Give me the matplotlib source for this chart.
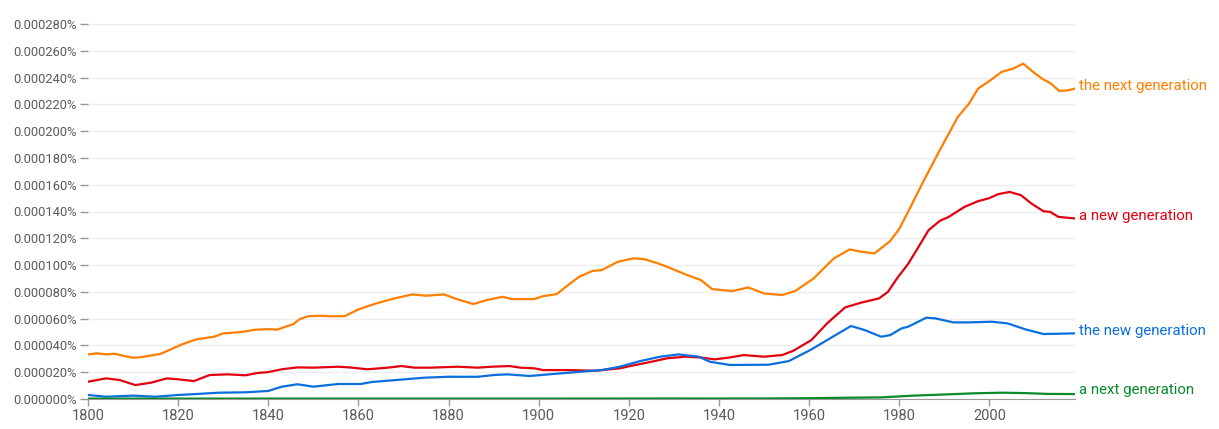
import numpy as np
import matplotlib.pyplot as plt

# values in units of 0.000001 %
years_tng = [1800, 1802, 1804, 1806, 1808, 1810, 1812, 1814, 1816, 1818, 1821, 1824, 1828, 1830,
             1834, 1837, 1840, 1842, 1844, 1845.5, 1847, 1849, 1852, 1854, 1857, 1860, 1864, 1868,
             1872, 1875, 1879, 1882, 1885.5, 1888.5, 1892, 1894, 1899, 1901, 1904, 1906.5, 1909,
             1912, 1914, 1917.5, 1921, 1923.5, 1926.5, 1928.5, 1933, 1936, 1938.5, 1943, 1946.5,
             1950, 1954, 1957, 1961, 1965.5, 1969, 1971.5, 1974.5, 1978, 1980, 1982, 1985.5, 1989,
             1993, 1995.5, 1997.5, 1999.7, 2002.7, 2005.3, 2007.5, 2009.7, 2012, 2013.5, 2015.5,
             2017.5, 2019]
the_next = [33.3, 34.1, 33.3, 33.8, 32.1, 30.8, 31.3, 32.5, 33.6, 36.5, 41, 44.5, 46.5, 49,
            50, 51.7, 52.2, 51.8, 54.2, 55.8, 59.7, 61.9, 62.1, 61.7, 61.9, 66.9, 71.4, 75.1,
            78.1, 77.1, 78.1, 74.4, 70.9, 73.9, 76.3, 74.6, 74.6, 76.8, 78.3, 85, 91.3,
            95.7, 96.2, 102.4, 105, 104.4, 101.2, 98.7, 92.5, 88.8, 82, 80.6, 83.3,
            78.8, 77.6, 80.8, 90, 105, 111.7, 110, 108.7, 118, 127, 140, 163.4, 185.8,
            210.6, 220.6, 231.8, 236.7, 244.2, 246.7, 250.4, 244.2, 238.5, 236, 230,
            230.5, 231.8]

years_anw = [1800, 1804, 1807, 1810.5, 1814, 1817.5, 1820, 1823.5, 1827, 1831, 1835, 1837.5, 1840,
             1843, 1846.5, 1850, 1855.5, 1858, 1862, 1866.5, 1869.5, 1872.5, 1876, 1882, 1886.5,
             1889.5, 1893.5, 1896, 1899, 1901, 1906.5, 1912.5, 1918, 1921, 1925, 1928.5, 1932.5,
             1936, 1939, 1942, 1945.5, 1950, 1954, 1956.5, 1960.5, 1964, 1968, 1971.5, 1975.5,
             1977.5, 1979.5, 1982, 1984, 1986.5, 1989, 1991, 1994.5, 1997.5, 2000, 2002, 2004.5,
             2007, 2009.3, 2012, 2013.5, 2015.3, 2019]
a_new = [12.9, 15.4, 14.2, 10.4, 12.2, 15.4, 14.7, 13.4, 17.9, 18.4, 17.7, 19.4, 20.1,
         22.2, 23.6, 23.4, 24.1, 23.6, 22.2, 23.4, 24.6, 23.4, 23.4, 24.1, 23.4,
         24.1, 24.6, 23.4, 22.9, 21.6, 21.6, 21.1, 22.9, 25.1, 27.8, 30.4, 31.6,
         31, 29.6, 30.8, 32.8, 31.6, 32.8, 36, 44, 56.5, 68.4, 71.9, 75.1,
         80, 90, 101, 112, 126, 133, 136, 143.5, 147.7, 150, 153, 154.6,
         152.2, 146, 140.2, 139.7, 136, 134.8]

years_tnw = [1800, 1804, 1810, 1815, 1820, 1824, 1829, 1835, 1840, 1843, 1846.5, 1850, 1855.5,
             1860.5, 1863, 1868.5, 1874.5, 1880, 1886.5, 1890, 1893, 1898, 1906.5, 1914, 1918,
             1922.5, 1927, 1931, 1935.5, 1938, 1942.5, 1951, 1955.5, 1960.5, 1965, 1969.3,
             1972.3, 1976, 1978, 1980.5, 1982, 1986, 1988, 1992, 1995.5, 2000.5, 2004, 2008,
             2012, 2019]
the_new = [3, 1.7, 2.5, 1.7, 3, 3.7, 4.7, 5, 6, 9.2, 11, 9.2, 11.2,
           11.2, 12.7, 14.2, 15.9, 16.6, 16.6, 17.9, 18.4, 17.2, 19.6, 21.6, 24.1,
           28.3, 31.6, 33.3, 31.6, 27.8, 25.4, 25.6, 28.3, 37, 46, 54.5,
           51.5, 46.5, 47.7, 52.7, 54, 60.7, 60.2, 57.2, 57.2, 57.7, 56.5, 52,
           48.5, 49]

years_anx = [1800, 1840, 1900, 1950, 1960, 1970, 1976, 1983, 1991, 1997, 2003, 2008, 2013, 2019]
a_next = [0.3, 0.3, 0.3, 0.4, 0.6, 1.0, 1.2, 2.5, 3.5, 4.3, 4.7, 4.4, 3.8, 3.7]

series = [
    ('the next generation', years_tng, the_next, '#ff7f00'),
    ('a new generation', years_anw, a_new, '#e3000f'),
    ('the new generation', years_tnw, the_new, '#0a6fdc'),
    ('a next generation', years_anx, a_next, '#0b8a2c'),
]

plt.rcParams['font.family'] = ['Roboto', 'DejaVu Sans']

fig = plt.figure(figsize=(12.19, 4.29), dpi=100)
ax = fig.add_axes([88 / 1219, 1 - 399 / 429, (1075 - 88) / 1219, (399 - 24) / 429])

for name, xs, ys, col in series:
    ax.plot(xs, ys, color=col, lw=1.6, solid_joinstyle='round', zorder=3)
    dy = 3 if name == 'a next generation' else 1.5
    ax.annotate(name, (xs[-1], ys[-1]), xytext=(3, dy), textcoords='offset points',
                color=col, fontsize=10.8, va='center', ha='left', annotation_clip=False)

ax.set_xlim(1800, 2019)
ax.set_ylim(0, 280)
yt = np.arange(0, 281, 20)
ax.set_yticks(yt)
ax.set_yticklabels([f'{t / 1e6:.6f}%' for t in yt])
ax.set_xticks(np.arange(1800, 2001, 20))
ax.grid(axis='y', color='#eeeeee', lw=1)
ax.set_axisbelow(True)

for s in ['top', 'right', 'left']:
    ax.spines[s].set_visible(False)
ax.spines['bottom'].set_color('#999999')
ax.tick_params(axis='y', colors='#999999', labelcolor='#5a5a5a', length=6, width=1,
               labelsize=9.3, pad=2)
ax.tick_params(axis='x', colors='#999999', labelcolor='#5a5a5a', length=5, width=1,
               labelsize=10.5, pad=2)

fig.savefig('out.png', dpi=100)
